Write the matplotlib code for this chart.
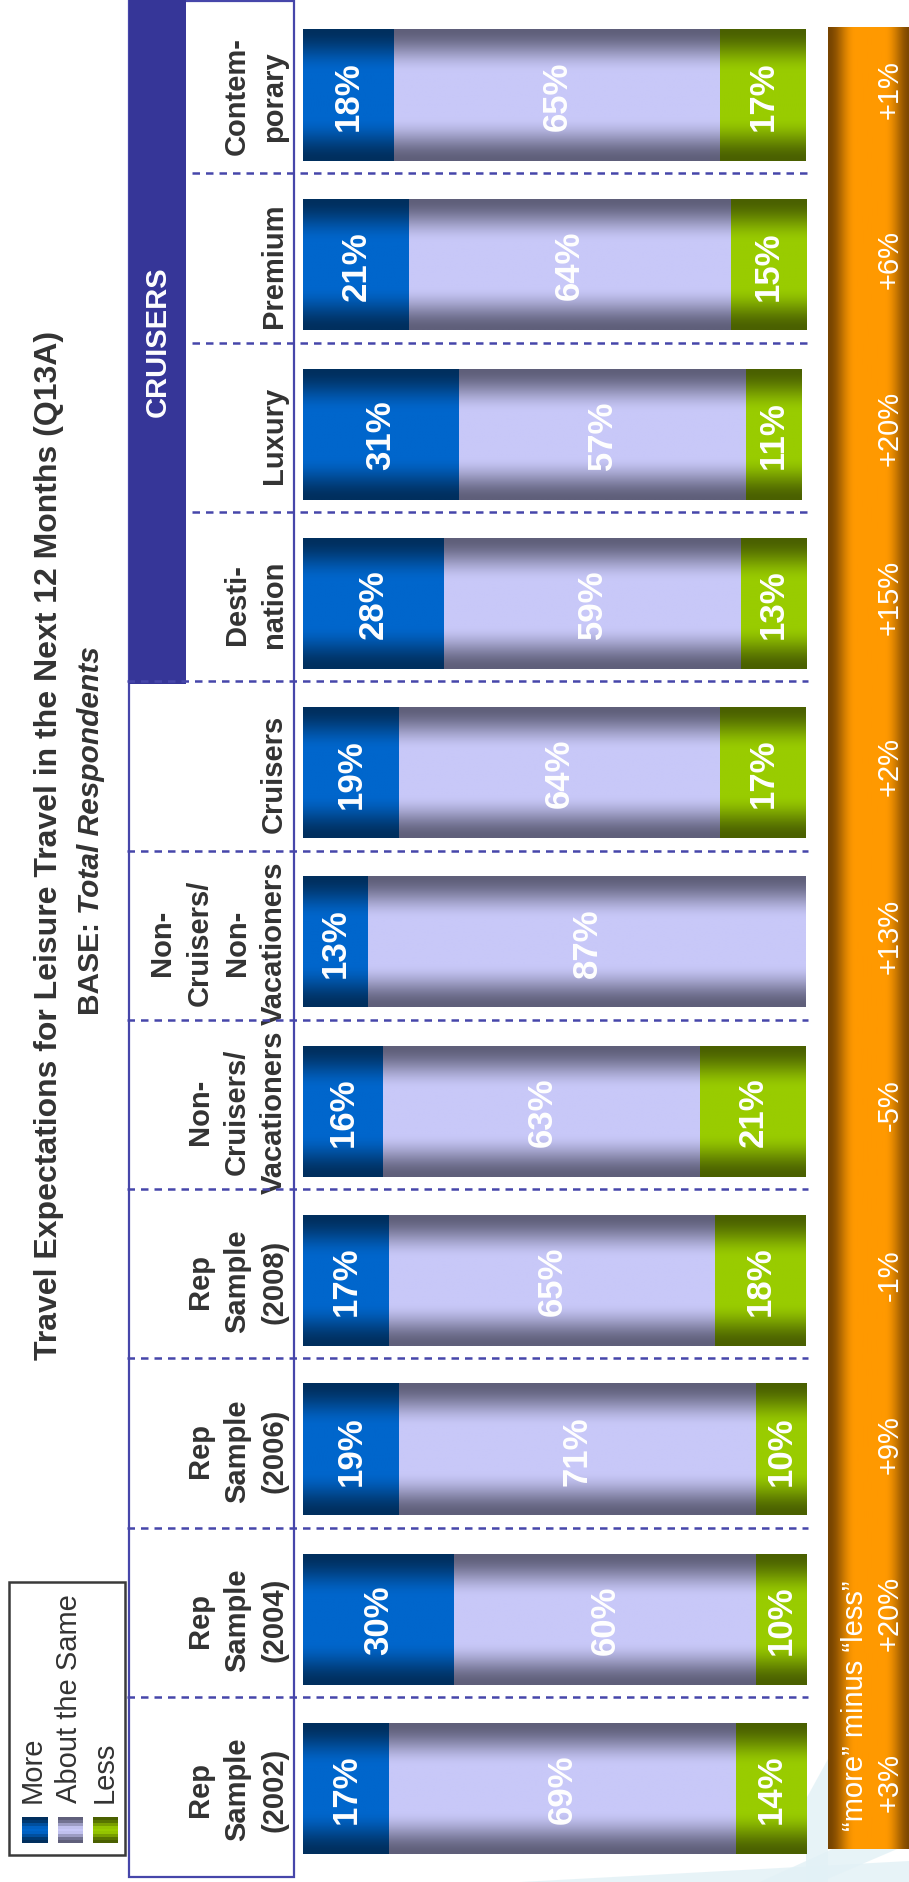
import matplotlib

matplotlib.use("Agg")
import matplotlib.colors as mcolors
import matplotlib.pyplot as plt
import numpy as np
from matplotlib.patches import Polygon, Rectangle
from matplotlib.transforms import blended_transform_factory

# data, bottom row first
categories = [
    "Rep\nSample\n(2002)",
    "Rep\nSample\n(2004)",
    "Rep\nSample\n(2006)",
    "Rep\nSample\n(2008)",
    "Non-\nCruisers/\nVacationers",
    "Non-\nCruisers/\nNon-\nVacationers",
    "Cruisers",
    "Desti-\nnation",
    "Luxury",
    "Premium",
    "Contem-\nporary",
]
more = [17, 30, 19, 17, 16, 13, 19, 28, 31, 21, 18]
same = [69, 60, 71, 65, 63, 87, 64, 59, 57, 64, 65]
less = [14, 10, 10, 18, 21, 0, 17, 13, 11, 15, 17]
net = ["+3%", "+20%", "+9%", "-1%", "-5%", "+13%", "+2%", "+15%", "+20%", "+6%", "+1%"]
series_names = ["More", "About the Same", "Less"]

plt.rcParams["font.family"] = ["Liberation Sans", "DejaVu Sans"]

W, H = 909, 1883
GREY = "#333333"
NAVY = "#363698"
LINE = "#4646aa"

# (edge colour, middle colour) for the shaded segments
shades = [("#002f5e", "#0066cc"), ("#5f5f7a", "#c8c8f8"), ("#4a6000", "#99cc00")]


def shade(edge, mid, n=101, ramp=0.33):
    t = np.linspace(0, 1, n)
    f = np.clip(np.minimum(t, 1 - t) / ramp, 0, 1)
    f = f * f * (3 - 2 * f)
    e = np.array(mcolors.to_rgb(edge))
    m = np.array(mcolors.to_rgb(mid))
    return e + (m - e) * f[:, None]


fig = plt.figure(figsize=(W / 100, H / 100), dpi=100)

# layout layer in pixel units (y measured from the top)
deco = fig.add_axes([0, 0, 1, 1], zorder=0)
deco.axis("off")
deco.set_xlim(0, W)
deco.set_ylim(H, 0)
deco.set_autoscale_on(False)

# faint backdrop streaks bottom right
for pts in [
    [(520, 1883), (909, 1862), (909, 1883)],
    [(760, 1883), (909, 1815), (909, 1845), (820, 1883)],
    [(806, 1800), (828, 1760), (828, 1883), (806, 1883)],
]:
    deco.add_patch(Polygon(pts, closed=True, color="#e2f1f6", alpha=0.8, lw=0))

# label column outline and CRUISERS band
deco.add_patch(Rectangle((129, 2), 165, 1876, fill=False, edgecolor=LINE, lw=1.6))
deco.add_patch(Rectangle((129, 0), 57, 685, color=NAVY, lw=0))
deco.text(158, 342, "CRUISERS", rotation=90, ha="center", va="center",
          color="white", fontsize=21, fontweight="bold")

# "more minus less" column
orange = shade("#774400", "#ff9900", ramp=0.32)
deco.imshow(orange[None, :, :], extent=[828, 912, 1850, 28], aspect="auto",
            interpolation="bilinear", zorder=1)
deco.text(855, 1831, "\u201cmore\u201d minus \u201cless\u201d", rotation=90,
          ha="center", va="bottom", color="white", fontsize=21, zorder=3)

# legend
deco.add_patch(Rectangle((9, 1583), 116, 273, facecolor="white",
                         edgecolor="#3a3a3a", lw=1.8, zorder=1))
for k, (name, (x0, x1), tx) in enumerate(
    zip(series_names, [(22, 48), (58, 83), (93, 118)], [33, 69, 105])
):
    g = shade(*shades[k], n=9, ramp=0.45)
    deco.imshow(g[:, None, :], extent=[x0, x1, 1844, 1818], aspect="auto",
                interpolation="nearest", zorder=2)
    deco.text(tx, 1803, name, rotation=90, ha="center", va="bottom",
              color=GREY, fontsize=21, zorder=3)

# title
deco.text(49, 845,
          "Travel Expectations for Leisure Travel in the Next 12 Months (Q13A)",
          rotation=90, ha="center", va="center", color=GREY, fontsize=23,
          fontweight="bold")
base = deco.text(91, 1015, "BASE: ", rotation=90, ha="center", va="bottom",
                 color=GREY, fontsize=21.5, fontweight="bold")
fig.canvas.draw()
bb = base.get_window_extent()
deco.text(91, H - bb.y1, "Total Respondents", rotation=90, ha="center",
          va="bottom", color=GREY, fontsize=21.5, fontweight="bold",
          style="italic")

deco.set_xlim(0, W)
deco.set_ylim(H, 0)

# bar area: 0..100 % across, one row per category
row = 169.3
y_bot = (H - 1789.5) - row / 2
ax = fig.add_axes([303 / W, y_bot / H, 503 / W, 11 * row / H], zorder=1)
ax.patch.set_alpha(0)
ax.axis("off")

ypos = np.arange(len(categories))
bar_h = 131 / row
left = np.zeros(len(categories))
for k, vals in enumerate([more, same, less]):
    vals = np.array(vals, dtype=float)
    bars = ax.barh(ypos, vals, left=left, height=bar_h, color="none", lw=0)
    g = shade(*shades[k])
    for rect, v in zip(bars, vals):
        if v <= 0:
            continue
        x0, y0 = rect.get_x(), rect.get_y()
        ax.imshow(g[:, None, :], extent=[x0, x0 + rect.get_width(), y0,
                  y0 + rect.get_height()], aspect="auto",
                  interpolation="bilinear", zorder=2)
        ax.text(x0 + rect.get_width() / 2, y0 + rect.get_height() / 2,
                f"{v:.0f}%", rotation=90, ha="center", va="center",
                color="white", fontsize=25, fontweight="bold", zorder=3)
    left += vals

ax.set_xlim(0, 100)
ax.set_ylim(-0.5, len(categories) - 0.5)

mix = blended_transform_factory(deco.transData, ax.transData)

# dashed separators between rows
for k in range(len(categories) - 1):
    yb = k + 0.54
    x0 = 127 if k <= 6 else 192
    ax.plot([x0, 808], [yb, yb], transform=mix, color=LINE, lw=1.8,
            dashes=(3.0, 2.4), clip_on=False, zorder=4)

# category labels and net values
for i, (lab, nv) in enumerate(zip(categories, net)):
    ax.text(288, i, lab, transform=mix, rotation=90, ha="right", va="center",
            multialignment="center", linespacing=1.42, color=GREY,
            fontsize=21, fontweight="bold", clip_on=False)
    ax.text(890, i + 0.04, nv, transform=mix, rotation=90, ha="center",
            va="center", color="white", fontsize=21, clip_on=False)

fig.savefig("out.png", dpi=100)
